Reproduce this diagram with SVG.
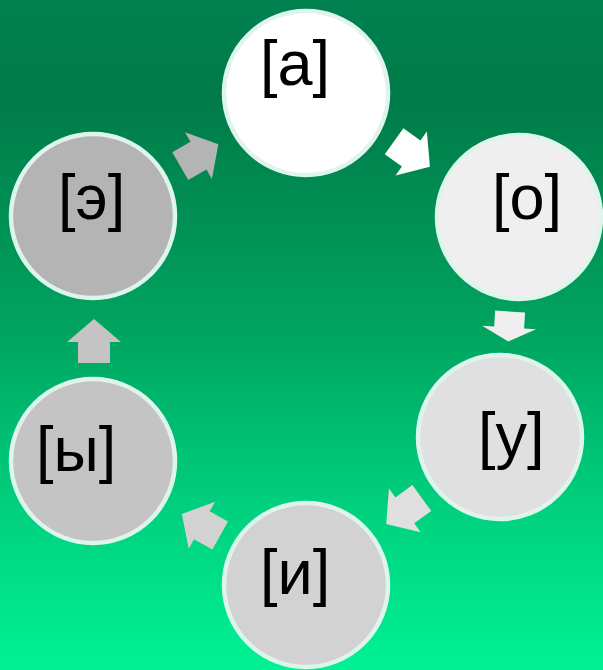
<svg xmlns="http://www.w3.org/2000/svg" width="603" height="670" viewBox="0 0 603 670">
<defs>
<linearGradient id="bg" x1="0" y1="0" x2="0" y2="1">
<stop offset="0" stop-color="#008150"/>
<stop offset="0.15" stop-color="#007b49"/>
<stop offset="0.5" stop-color="#00a560"/>
<stop offset="0.75" stop-color="#00cf7e"/>
<stop offset="1" stop-color="#00f294"/>
</linearGradient>
<polygon id="arr" points="-22,-16 -1,-16 -1,-27 22,0 -1,27 -1,16 -22,16"/>
</defs>
<style>
.node circle{stroke:#def5ee;stroke-width:4.5}
.node text{font-family:"Liberation Sans",Arial,sans-serif;font-size:63px;fill:#000}
</style>
<rect width="603" height="670" fill="url(#bg)"/>
<g id="connectors">
<use href="#arr" transform="translate(199.3,155.2) rotate(-30)" fill="#b4b4b4"/>
<use href="#arr" transform="translate(412,154) rotate(35.5)" fill="#ffffff"/>
<polygon points="-15,-15 1,-15 1,-27 15,0 1,27 1,15 -15,15" transform="translate(509.2,326.5) rotate(93.5)" fill="#efefef"/>
<use href="#arr" transform="translate(404,511) rotate(144)" fill="#e0e0e0"/>
<use href="#arr" transform="translate(201,524.8) rotate(209.3)" fill="#d2d2d2"/>
<use href="#arr" transform="translate(94,341) rotate(-90)" fill="#c4c4c4"/>
</g>
<g id="node-a" class="node"><circle cx="306" cy="93" r="82" fill="#ffffff"/><text x="260" y="85">[а]</text></g>
<g id="node-o" class="node"><circle cx="519" cy="217" r="82" fill="#efefef"/><text x="492" y="219">[о]</text></g>
<g id="node-u" class="node"><circle cx="500" cy="437" r="82" fill="#e0e0e0"/><text x="478" y="457">[у]</text></g>
<g id="node-i" class="node"><circle cx="306" cy="585" r="82" fill="#d2d2d2"/><text x="260" y="594">[и]</text></g>
<g id="node-y" class="node"><circle cx="93" cy="461" r="82" fill="#c4c4c4"/><text x="36" y="471">[ы]</text></g>
<g id="node-e" class="node"><circle cx="93" cy="216" r="82" fill="#b4b4b4"/><text x="58" y="219">[э]</text></g>
</svg>
